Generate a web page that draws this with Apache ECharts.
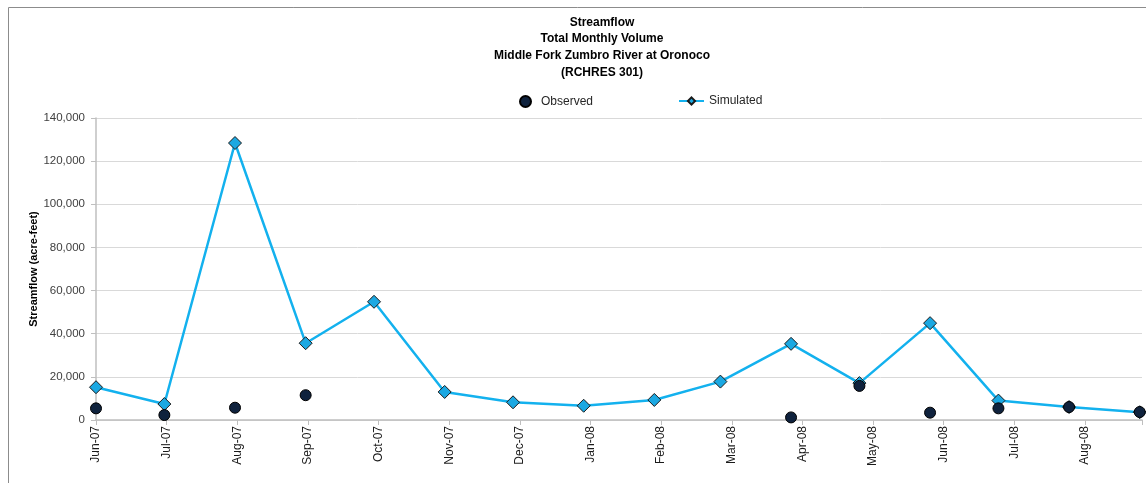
<!DOCTYPE html>
<html>
<head>
<meta charset="utf-8">
<title>Streamflow - Total Monthly Volume</title>
<script src="https://cdn.jsdelivr.net/npm/echarts@6/dist/echarts.min.js"></script>
<style>
    html, body { margin: 0; padding: 0; background: #fff; }
    #streamflow-chart { width: 1146px; height: 483px; }
</style>
</head>
<body>
<div id="streamflow-chart"></div>
<script>
// monthly sample dates (first of the month)
var sampleDates = ['2007-06-01', '2007-07-01', '2007-08-01', '2007-09-01', '2007-10-01', '2007-11-01',
    '2007-12-01', '2008-01-01', '2008-02-01', '2008-03-01', '2008-04-01', '2008-05-01',
    '2008-06-01', '2008-07-01', '2008-08-01', '2008-09-01'];

// acre-feet
var simulated = [15200, 7400, 128400, 35600, 54800, 13000, 8200, 6600, 9300, 17800, 35300, 17100, 44900, 9000, 6000, 3600];
var observed = [5400, 2300, 5700, 11500, null, null, null, null, null, null, 1200, 15800, 3400, 5400, 6000, 3700];

// x axis ticks every 31 days from the first date
var tickLabels = ['Jun-07', 'Jul-07', 'Aug-07', 'Sep-07', 'Oct-07', 'Nov-07', 'Dec-07', 'Jan-08',
    'Feb-08', 'Mar-08', 'Apr-08', 'May-08', 'Jun-08', 'Jul-08', 'Aug-08'];

var DAY = 24 * 3600 * 1000;
var FONT = '"Liberation Sans", Arial, sans-serif';

function dayOffset(s) {
    return Math.round((Date.parse(s) - Date.parse(sampleDates[0])) / DAY);
}

function toPairs(values) {
    var out = [];
    values.forEach(function (v, i) {
        if (v !== null) {
            out.push([dayOffset(sampleDates[i]), v]);
        }
    });
    return out;
}

drawStreamflowChart();

/**
 * Streamflow chart: observed vs simulated monthly volume
 */
function drawStreamflowChart() {
    var chartDom = document.getElementById('streamflow-chart');
    var myChart = echarts.init(chartDom);
    var option;

    option = {
        animation: false,
        textStyle: { fontFamily: FONT },
        graphic: [
            {
                type: 'rect',
                silent: true,
                shape: { x: 8.5, y: 7.5, width: 1200, height: 520 },
                style: { fill: 'none', stroke: '#8c8c8c', lineWidth: 1 }
            },
            {
                type: 'text',
                x: 602,
                y: 14,
                style: {
                    text: 'Streamflow\nTotal Monthly Volume\nMiddle Fork Zumbro River at Oronoco\n(RCHRES 301)',
                    font: 'bold 12px ' + FONT,
                    lineHeight: 16.7,
                    fill: '#000',
                    align: 'center',
                    verticalAlign: 'top'
                }
            }
        ],
        legend: [
            {
                data: ['Observed'],
                left: 514,
                top: 90,
                itemWidth: 21,
                itemHeight: 11,
                textStyle: { fontSize: 12, color: '#262626', fontFamily: FONT }
            },
            {
                data: ['Simulated'],
                left: 673,
                top: 90,
                itemWidth: 25,
                itemHeight: 9,
                textStyle: { fontSize: 12, color: '#262626', fontFamily: FONT }
            }
        ],
        grid: {
            left: 96,
            right: 4,
            top: 118,
            bottom: 63,
            containLabel: false
        },
        xAxis: {
            type: 'value',
            min: 0,
            max: 459,
            interval: 31,
            axisLine: { lineStyle: { color: '#bfbfbf', width: 1.5 } },
            axisTick: { show: true, length: 5, lineStyle: { color: '#bfbfbf' } },
            splitLine: { show: false },
            axisLabel: {
                rotate: 90,
                margin: 6,
                fontSize: 12,
                color: '#1a1a1a',
                fontFamily: FONT,
                formatter: function (v) {
                    var k = v / 31;
                    return (k === Math.round(k) && tickLabels[k]) ? tickLabels[k] : '';
                }
            }
        },
        yAxis: {
            type: 'value',
            min: 0,
            max: 140000,
            interval: 20000,
            name: 'Streamflow (acre-feet)',
            nameLocation: 'middle',
            nameGap: 57,
            nameMoveOverlap: false,
            nameTextStyle: { fontWeight: 'bold', fontSize: 11, color: '#000', fontFamily: FONT },
            axisLine: { show: true, lineStyle: { color: '#bfbfbf', width: 1.5 } },
            axisTick: { show: true, length: 5, lineStyle: { color: '#bfbfbf' } },
            splitLine: { lineStyle: { color: '#d9d9d9' } },
            axisLabel: {
                margin: 11,
                fontSize: 11.5,
                color: '#404040',
                fontFamily: FONT,
                formatter: function (v) {
                    return v.toLocaleString('en-US');
                }
            }
        },
        series: [
            {
                name: 'Simulated',
                type: 'line',
                data: toPairs(simulated),
                symbol: 'diamond',
                symbolSize: 13,
                z: 2,
                lineStyle: { color: '#13b1ee', width: 2.5 },
                itemStyle: { color: '#1ba8e2', borderColor: '#1a1a1a', borderWidth: 1 }
            },
            {
                name: 'Observed',
                type: 'scatter',
                data: toPairs(observed),
                symbol: 'circle',
                symbolSize: 11,
                z: 3,
                itemStyle: { color: '#0f223d', borderColor: '#000', borderWidth: 1, opacity: 1 }
            }
        ]
    };

    option && myChart.setOption(option);
}
</script>
</body>
</html>
